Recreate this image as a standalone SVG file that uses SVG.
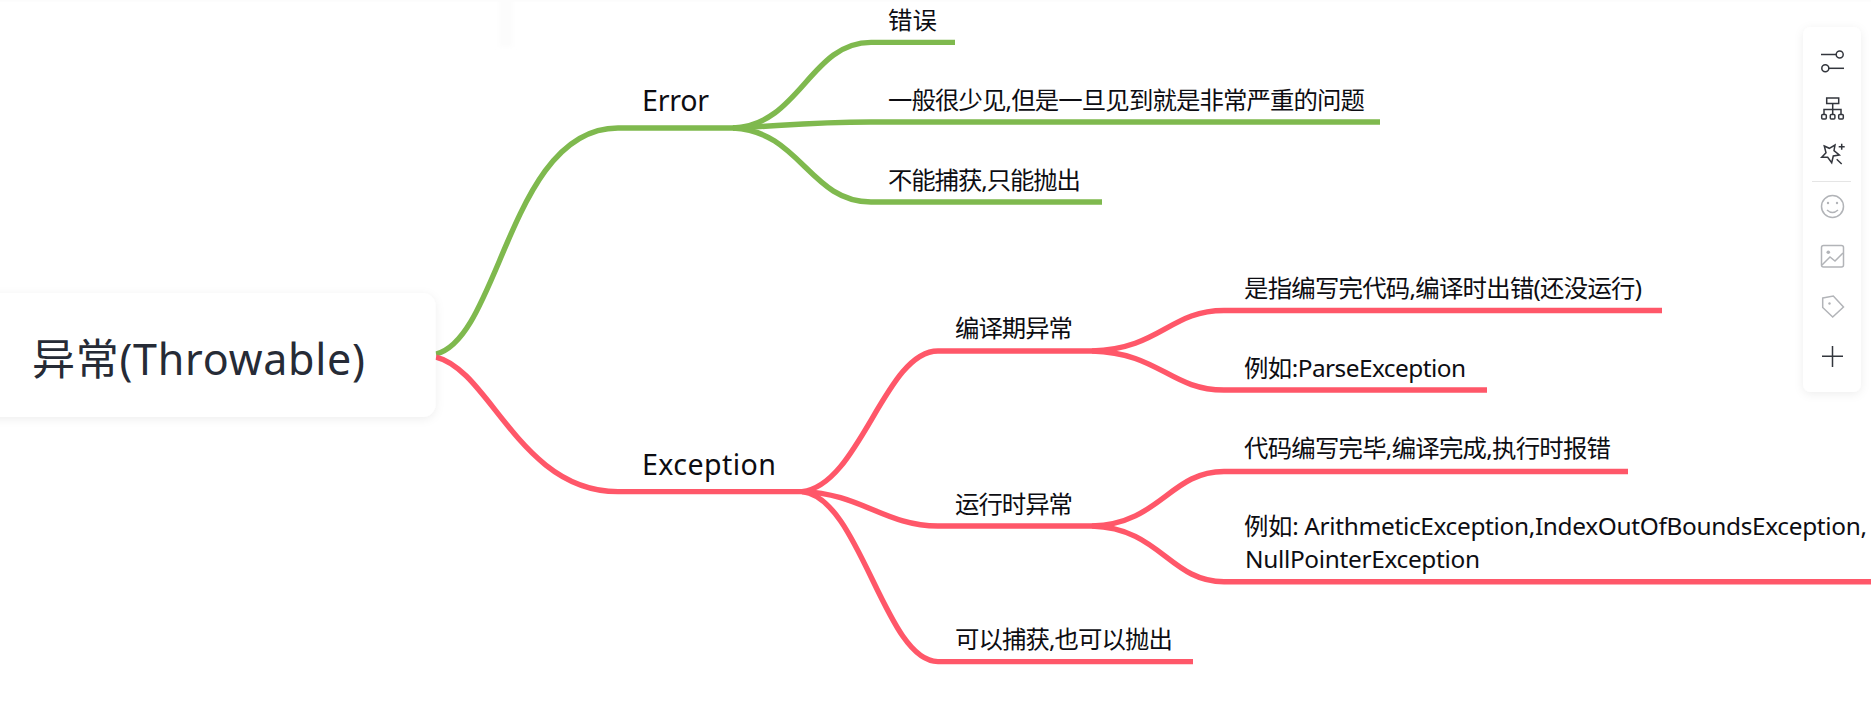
<svg xmlns="http://www.w3.org/2000/svg" width="1871" height="709" viewBox="0 0 1871 709">
<style>
text{font-family:"Noto Sans","Noto Sans CJK SC",sans-serif;fill:#0d0d12}
.l1{font-size:28.6px}
.l2{font-size:24.4px}
.root{font-size:43px;fill:#262b36}
.c{fill:none;stroke-width:5.4}
.g{stroke:#7fb94e}
.r{stroke:#ff5769}
.ic{fill:none;stroke:#33363d;stroke-width:1.5}
.ig{fill:none;stroke:#b2b4b8;stroke-width:1.5}
</style>
<defs>
<filter id="sh" x="-30%" y="-30%" width="160%" height="160%"><feDropShadow dx="0" dy="2" stdDeviation="5" flood-color="#000" flood-opacity="0.07"/></filter>
<filter id="bl" x="-50%" y="-50%" width="200%" height="200%"><feGaussianBlur stdDeviation="2"/></filter>
</defs>
<rect width="1871" height="709" fill="#fff"/>
<rect id="topstrip" x="0" y="0" width="1871" height="1.500" fill="#fcfcfc"/>
<rect id="panelshade" x="499" y="-5" width="14" height="52" fill="#fcfcfc" filter="url(#bl)"/>
<g id="connectors">
<path class="c g" d="M436,354C500,338 510,128 618,128H735"/>
<path class="c r" d="M436,357C490,370 520,491.6 618,491.6H802"/>
<path class="c g" d="M733,128C800,125 810,42.4 871,42.4H955"/>
<path class="c g" d="M733,128C780,126 810,122 871,122H1380"/>
<path class="c g" d="M733,128C800,131 810,202 871,202H1102"/>
<path class="c r" d="M802,491.6C860,485 885,351 938,351H1092"/>
<path class="c r" d="M802,491.6C860,493 885,526 938,526H1092"/>
<path class="c r" d="M802,491.6C860,497 885,661.6 938,661.6H1193"/>
<path class="c r" d="M1092,351C1160,349 1170,310.5 1224,310.5H1662"/>
<path class="c r" d="M1092,351C1160,353 1170,390 1224,390H1487"/>
<path class="c r" d="M1092,526C1160,524 1170,471.5 1224,471.5H1628"/>
<path class="c r" d="M1092,526C1160,528 1170,581.7 1224,581.7H1871"/>
</g>
<g id="root"><rect x="-30" y="293" width="465.500" height="124" rx="13" fill="#fff" filter="url(#sh)"/><text class="root" x="32" y="375" textLength="333">异常(Throwable)</text></g>
<g id="n-error"><text class="l1" x="642" y="111" textLength="67">Error</text></g>
<g id="n-exception"><text class="l1" x="642" y="475" textLength="134">Exception</text></g>
<g id="n-e1"><text class="l2" x="888" y="29">错误</text></g>
<g id="n-e2"><text class="l2" x="888" y="109" textLength="477">一般很少见,但是一旦见到就是非常严重的问题</text></g>
<g id="n-e3"><text class="l2" x="888" y="189" textLength="193">不能捕获,只能抛出</text></g>
<g id="n-x1"><text class="l2" x="955" y="337" textLength="118">编译期异常</text></g>
<g id="n-x2"><text class="l2" x="955" y="513" textLength="118">运行时异常</text></g>
<g id="n-x3"><text class="l2" x="955" y="648" textLength="218">可以捕获,也可以抛出</text></g>
<g id="n-a1"><text class="l2" x="1244" y="297" textLength="398">是指编写完代码,编译时出错(还没运行)</text></g>
<g id="n-a2"><text class="l2" x="1244" y="377" textLength="222">例如:ParseException</text></g>
<g id="n-b1"><text class="l2" x="1244" y="457" textLength="367">代码编写完毕,编译完成,执行时报错</text></g>
<g id="n-b2"><text class="l2" x="1244" y="535" textLength="623">例如: ArithmeticException,IndexOutOfBoundsException,</text><text class="l2" x="1245" y="568" textLength="235">NullPointerException</text></g>
<g id="toolbar">
<rect x="1803" y="27" width="58" height="365" rx="8" fill="#fff" filter="url(#sh)"/>
<path class="ic" d="M1821,54.500H1836"/><circle class="ic" cx="1839.700" cy="54.500" r="3.500"/>
<circle class="ic" cx="1825.300" cy="68.300" r="3.500"/><path class="ic" d="M1829,68.300H1844"/>
<rect class="ic" x="1826.700" y="98" width="12" height="5.500"/>
<path class="ic" d="M1832.700,103.500V114M1824,114V109.500H1841V114"/>
<rect class="ic" x="1821.700" y="114.500" width="4.600" height="4.600" rx="1"/><rect class="ic" x="1830.300" y="114.500" width="4.600" height="4.600" rx="1"/><rect class="ic" x="1838.700" y="114.500" width="4.600" height="4.600" rx="1"/>
<path class="ic" d="M1824.300,146L1829.300,148.300L1835,145L1834,150.700L1839.300,155L1833.300,156L1831.700,162.700L1827.700,157.300L1821.700,157.300L1826,152.700Z"/>
<path class="ic" d="M1836.700,159.300L1841.700,164M1841.700,143.700V149.700M1838.700,146.700H1844.700"/>
<path d="M1812,181.500H1851" stroke="#e5e5e5" stroke-width="1" fill="none"/>
<circle class="ig" cx="1832.500" cy="206.500" r="11"/><circle cx="1828" cy="203" r="1.200" fill="#b2b4b8"/><circle cx="1837" cy="203" r="1.200" fill="#b2b4b8"/><path class="ig" d="M1827,210Q1832.500,215 1838,210"/>
<rect class="ig" x="1821.500" y="245.500" width="22" height="21.500" rx="2"/><circle cx="1828.300" cy="252.300" r="1.800" fill="#b2b4b8"/><path class="ig" d="M1822,265L1830,257L1835,261L1843,253"/>
<path class="ig" d="M1822.700,298L1833.300,296L1843.500,307L1832.700,317L1822.700,307.500Z"/><circle cx="1829.500" cy="303.500" r="1.200" fill="#b2b4b8"/>
<path d="M1822,356.300H1843M1832.500,346V367" stroke="#33363d" stroke-width="1.500" fill="none"/>
</g>
</svg>
